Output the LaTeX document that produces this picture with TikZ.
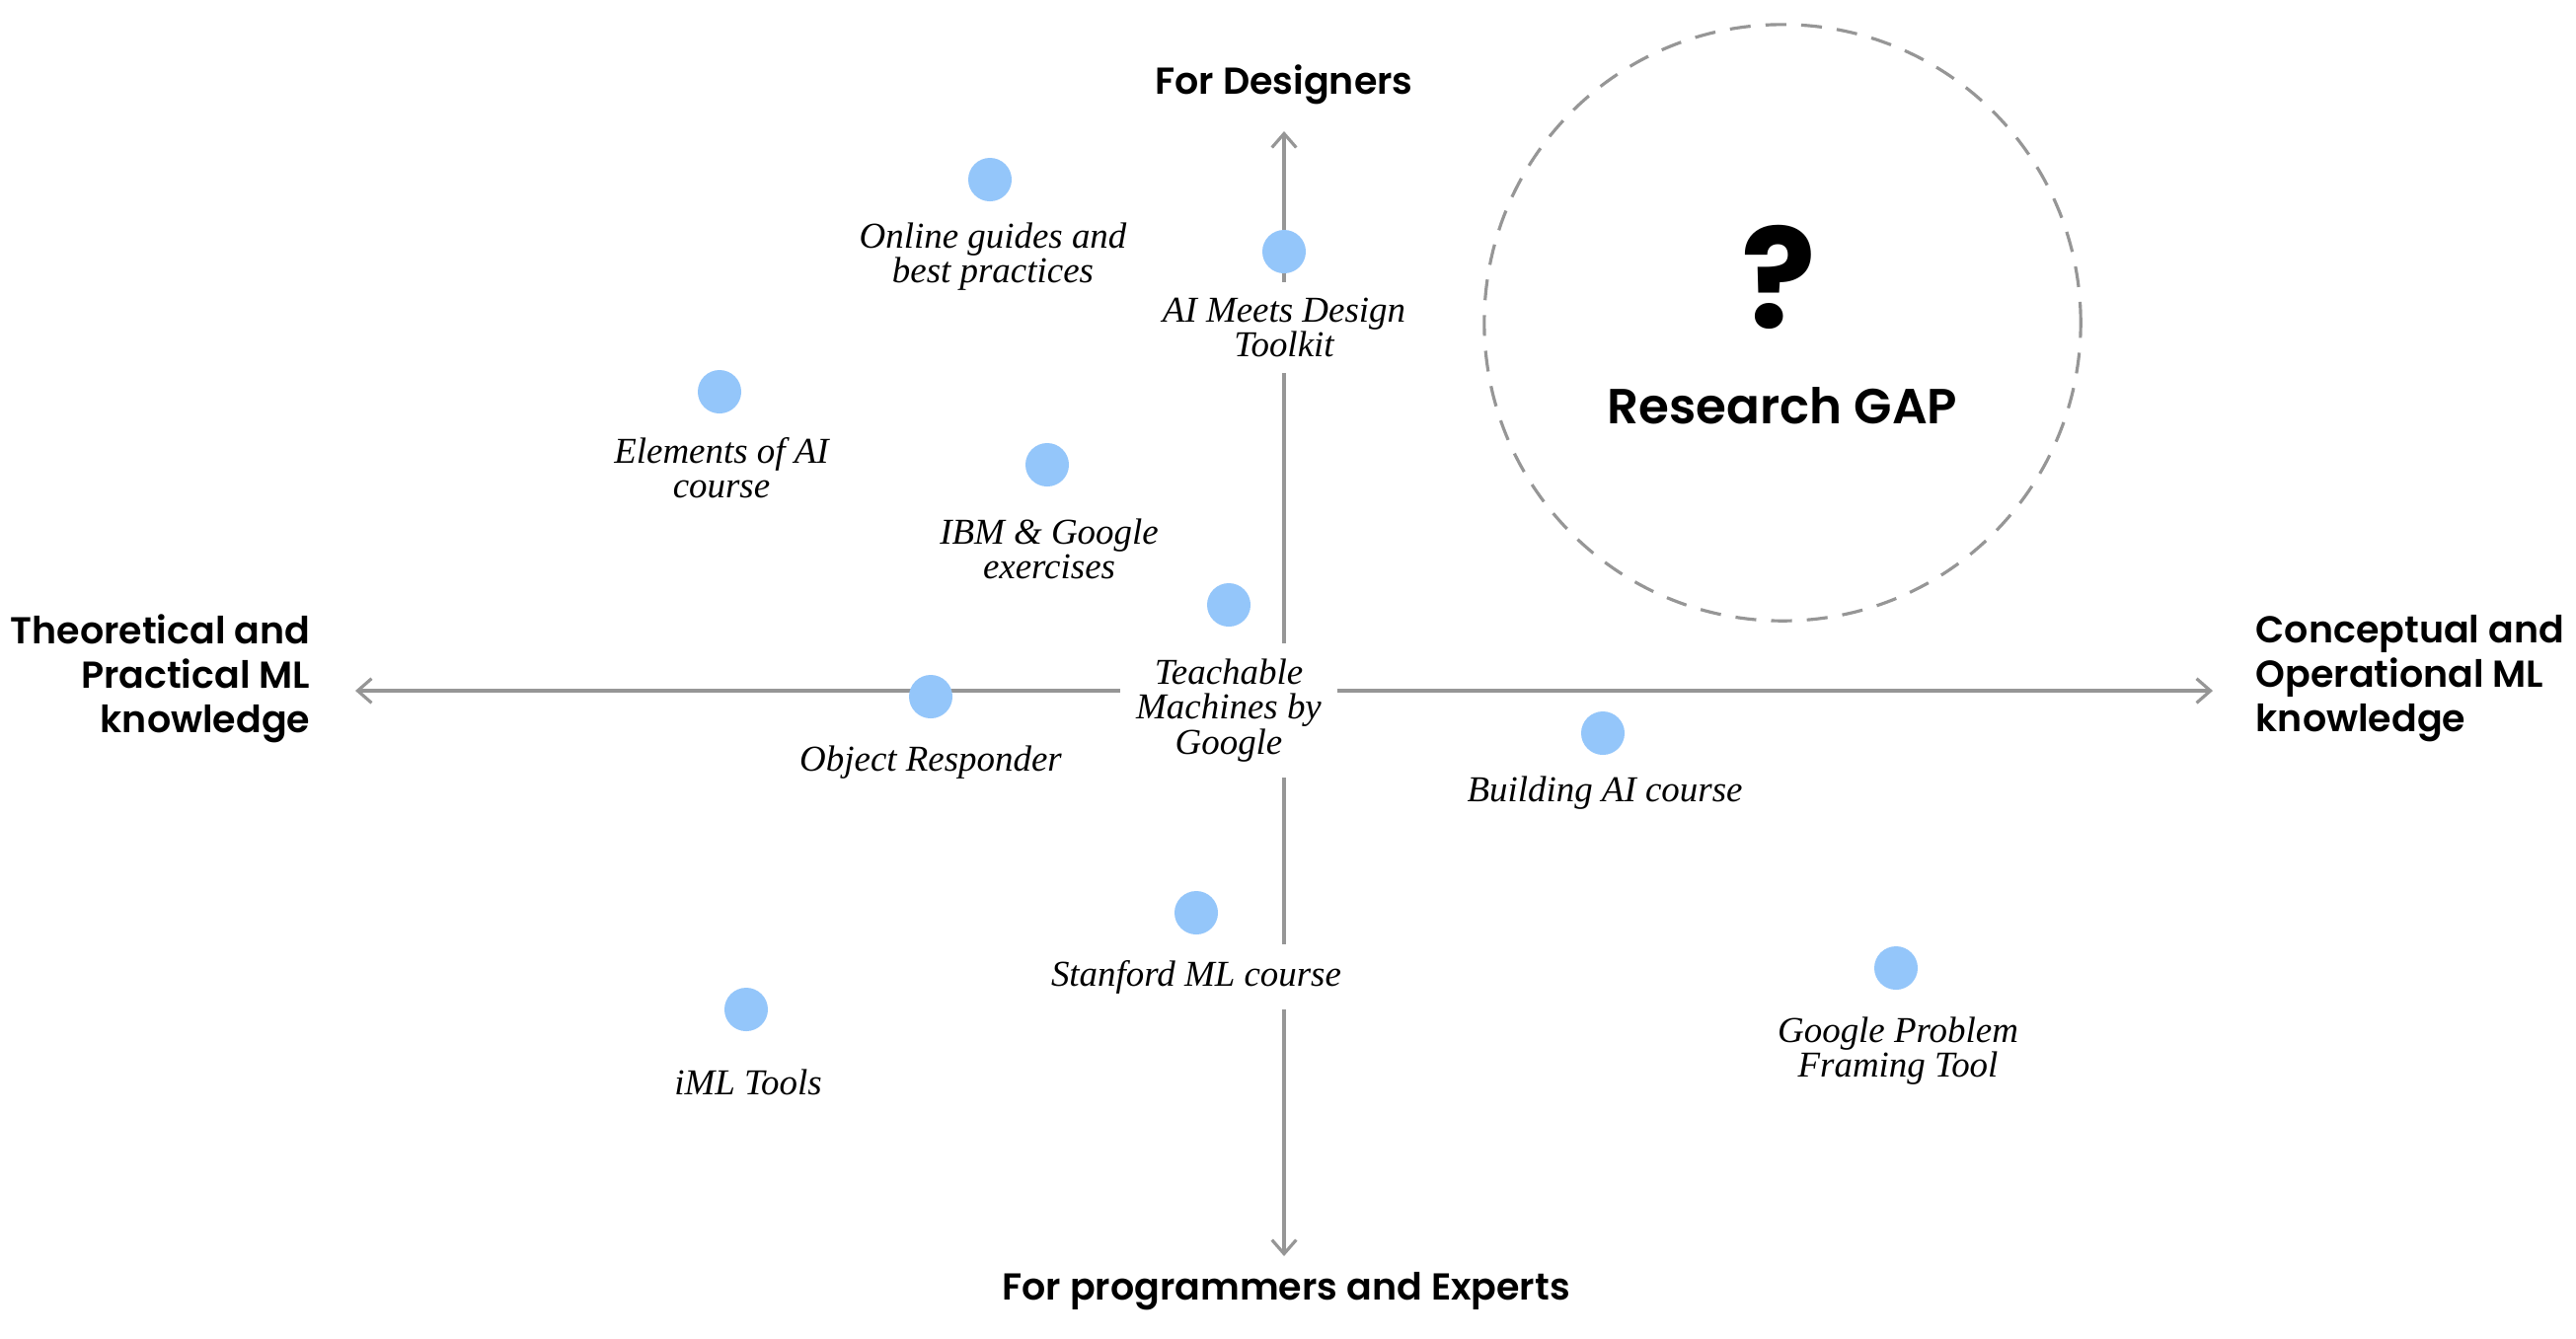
\documentclass[tikz,border=0pt]{standalone}
\usepackage{fontspec}
\usetikzlibrary{arrows.meta}
\newfontfamily\headfont{Poppins}[UprightFont=* SemiBold, BoldFont=* Bold]
\newfontfamily\labelfont{Liberation Serif}
\definecolor{dotblue}{RGB}{148,198,250}
\definecolor{axisgray}{RGB}{150,150,150}
\tikzset{
  axis/.style={draw=axisgray, line width=0.9pt, -{Straight Barb[length=4pt,width=7pt]}},
  tool/.style={circle, fill=dotblue, minimum size=0.44cm, inner sep=0pt},
  toollabel/.style={fill=white, inner sep=4.5pt, align=center, font=\labelfont\itshape\fontsize{10.5}{10}\selectfont},
  heading/.style={inner sep=0pt, font=\headfont\fontsize{10.8}{12.8}\selectfont},
}
\begin{document}
\begin{tikzpicture}[x=0.01cm, y=-0.01cm]
  \useasboundingbox[fill=white] (0,0) rectangle (2610,1356);
  % axes
  \coordinate (O) at (1301,700);
  \coordinate (N) at (1301,133);
  \coordinate (S) at (1301,1273);
  \coordinate (W) at (360,700);
  \coordinate (E) at (2242,700);
  \draw[axis] (O) -- (N);
  \draw[axis] (O) -- (S);
  \draw[axis] (O) -- (W);
  \draw[axis] (O) -- (E);
  % axis headings
  \node[heading, anchor=base] (designers) at (1301,95) {For Designers};
  \node[heading, anchor=base] (experts) at (1303,1317) {For programmers and Experts};
  \node[heading, align=right, anchor=east] (theory) at (315,688) {Theoretical and\\Practical ML\\knowledge};
  \node[heading, align=left, anchor=west] (concept) at (2285,688) {Conceptual and\\Operational ML\\knowledge};
  % research gap
  \node[draw=axisgray, circle, line width=0.9pt, dash pattern=on 6pt off 4.3pt,
        minimum size=6.04cm] (gapzone) at (1806,327) {};
  \node[font=\headfont\bfseries\fontsize{40}{40}\selectfont, anchor=base] (qmark) at (1802,332) {?};
  \node[font=\headfont\fontsize{14.2}{14.2}\selectfont, anchor=base] (gap) at (1806,429) {Research GAP};
  % tools
  \node[tool] (online) at (1003,182) {};
  \node[tool] (aimd) at (1301,255) {};
  \node[tool] (elements) at (729,397) {};
  \node[tool] (ibm) at (1061,471) {};
  \node[tool] (teachable) at (1245,613) {};
  \node[tool] (objresp) at (943,706) {};
  \node[tool] (building) at (1624,743) {};
  \node[tool] (stanford) at (1212,925) {};
  \node[tool] (iml) at (756,1023) {};
  \node[tool] (gpf) at (1921,981) {};
  % tool labels
  \node[toollabel] (online-l) at (1006,260) {Online guides and\\best practices};
  \node[toollabel] (aimd-l) at (1301,332) {AI Meets Design\\Toolkit};
  \node[toollabel] (elements-l) at (731,474) {Elements of AI\\course};
  \node[toollabel] (ibm-l) at (1063,556) {IBM \& Google\\exercises};
  \node[toollabel] (teachable-l) at (1245,720) {Teachable\\Machines by\\Google};
  \node[toollabel] (objresp-l) at (943,773) {Object Responder};
  \node[toollabel] (building-l) at (1626,804) {Building AI course};
  \node[toollabel] (stanford-l) at (1212,990) {Stanford ML course};
  \node[toollabel] (iml-l) at (758,1097) {iML Tools};
  \node[toollabel] (gpf-l) at (1923,1065) {Google Problem\\Framing Tool};
\end{tikzpicture}
\end{document}
